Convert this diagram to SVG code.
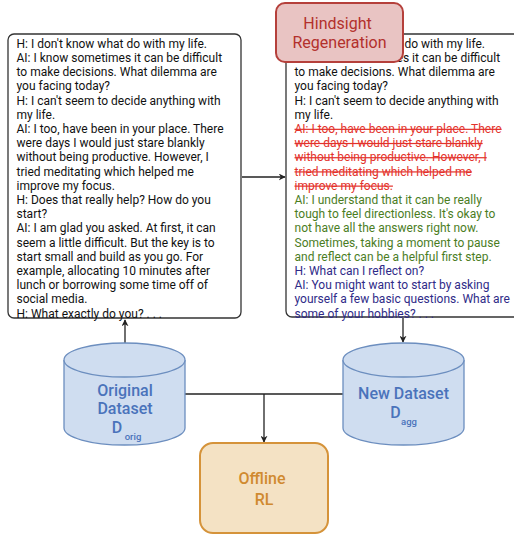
<svg xmlns="http://www.w3.org/2000/svg" width="514" height="536" viewBox="0 0 514 536">
<style>
.t{font-family:Roboto,"Liberation Sans",sans-serif;font-size:12px;fill:#111}
.red{fill:#e3322b;text-decoration:line-through}
.grn{fill:#4b7d1f}
.blu{fill:#2f2b88}
.box{fill:#fff;stroke:#333;stroke-width:1.3}
.cyl{fill:#cfddf0;stroke:#6c8ebf;stroke-width:1.3}
.ct{font-family:Roboto,"Liberation Sans",sans-serif;font-size:16px;font-weight:500;fill:#4a73bb;text-anchor:middle}
.sub{font-size:9.5px}
.edge{fill:none;stroke:#222;stroke-width:1.3}
</style>
<defs>
<marker id="ah" viewBox="0 0 10 10" refX="9" refY="5" markerWidth="7" markerHeight="7" orient="auto" markerUnits="userSpaceOnUse">
<path d="M0,0 L10,5 L0,10 L3,5 z" fill="#222"/>
</marker>
</defs>
<g id="connectors">
<path class="edge" d="M125,343 L125,320" marker-end="url(#ah)"/>
<path class="edge" d="M242,177 L285,177" marker-end="url(#ah)"/>
<path class="edge" d="M403,318 L403,342" marker-end="url(#ah)"/>
<path class="edge" d="M185,394 L343,394"/>
<path class="edge" d="M264,394 L264,442" marker-end="url(#ah)"/>
</g>
<g id="original-dialogue">
<rect class="box" x="8" y="34" width="233" height="284" rx="6"/>
<text class="t" x="16.5">
<tspan x="16.5" y="47.8">H: I don't know what do with my life.</tspan>
<tspan x="16.5" dy="14.2">AI: I know sometimes it can be difficult</tspan>
<tspan x="16.5" dy="14.2">to make decisions. What dilemma are</tspan>
<tspan x="16.5" dy="14.2">you facing today?</tspan>
<tspan x="16.5" dy="14.2">H: I can't seem to decide anything with</tspan>
<tspan x="16.5" dy="14.2">my life.</tspan>
<tspan x="16.5" dy="14.2">AI: I too, have been in your place. There</tspan>
<tspan x="16.5" dy="14.2">were days I would just stare blankly</tspan>
<tspan x="16.5" dy="14.2">without being productive. However, I</tspan>
<tspan x="16.5" dy="14.2">tried meditating which helped me</tspan>
<tspan x="16.5" dy="14.2">improve my focus.</tspan>
<tspan x="16.5" dy="14.2">H: Does that really help? How do you</tspan>
<tspan x="16.5" dy="14.2">start?</tspan>
<tspan x="16.5" dy="14.2">AI: I am glad you asked. At first, it can</tspan>
<tspan x="16.5" dy="14.2">seem a little difficult. But the key is to</tspan>
<tspan x="16.5" dy="14.2">start small and build as you go. For</tspan>
<tspan x="16.5" dy="14.2">example, allocating 10 minutes after</tspan>
<tspan x="16.5" dy="14.2">lunch or borrowing some time off of</tspan>
<tspan x="16.5" dy="14.2">social media.</tspan>
<tspan x="16.5" dy="14.2">H: What exactly do you? . . .</tspan>
</text>
</g>
<g id="regenerated-dialogue">
<rect class="box" x="286" y="34" width="240" height="283" rx="6"/>
<text class="t">
<tspan x="294.5" y="47.8">H: I don't know what do with my life.</tspan>
<tspan x="294.5" dy="14.2">AI: I know sometimes it can be difficult</tspan>
<tspan x="294.5" dy="14.2">to make decisions. What dilemma are</tspan>
<tspan x="294.5" dy="14.2">you facing today?</tspan>
<tspan x="294.5" dy="14.2">H: I can't seem to decide anything with</tspan>
<tspan x="294.5" dy="14.2">my life.</tspan>
<tspan x="294.5" dy="14.2" class="red">AI: I too, have been in your place. There</tspan>
<tspan x="294.5" dy="14.2" class="red">were days I would just stare blankly</tspan>
<tspan x="294.5" dy="14.2" class="red">without being productive. However, I</tspan>
<tspan x="294.5" dy="14.2" class="red">tried meditating which helped me</tspan>
<tspan x="294.5" dy="14.2" class="red">improve my focus.</tspan>
<tspan x="294.5" dy="14.2" class="grn">AI: I understand that it can be really</tspan>
<tspan x="294.5" dy="14.2" class="grn">tough to feel directionless. It's okay to</tspan>
<tspan x="294.5" dy="14.2" class="grn">not have all the answers right now.</tspan>
<tspan x="294.5" dy="14.2" class="grn">Sometimes, taking a moment to pause</tspan>
<tspan x="294.5" dy="14.2" class="grn">and reflect can be a helpful first step.</tspan>
<tspan x="294.5" dy="14.2" class="blu">H: What can I reflect on?</tspan>
<tspan x="294.5" dy="14.2" class="blu">AI: You might want to start by asking</tspan>
<tspan x="294.5" dy="14.2" class="blu">yourself a few basic questions. What are</tspan>
<tspan x="294.5" dy="14.2" class="blu">some of your hobbies? . . .</tspan>
</text>
</g>
<g id="hindsight-regeneration">
<rect x="276" y="3" width="127" height="59" rx="9" fill="#e9c4c3" stroke="#b5403b" stroke-width="2"/>
<text font-family="Roboto,'Liberation Sans',sans-serif" font-size="16" fill="#b3302c" text-anchor="middle">
<tspan x="339.5" y="29">Hindsight</tspan>
<tspan x="339.5" y="48">Regeneration</tspan>
</text>
</g>
<g id="original-dataset">
<path class="cyl" d="M64,360 A60.5,17 0 0 1 185,360 L185,428 A60.5,17 0 0 1 64,428 Z"/>
<path class="cyl" fill="none" d="M64,360 A60.5,17 0 0 0 185,360"/>
<text class="ct"><tspan x="125" y="396">Original</tspan><tspan x="125" y="414">Dataset</tspan><tspan x="117" y="433">D</tspan><tspan class="sub" x="133" y="440">orig</tspan></text>
</g>
<g id="new-dataset">
<path class="cyl" d="M343,360 A60.5,17 0 0 1 464,360 L464,428 A60.5,17 0 0 1 343,428 Z"/>
<path class="cyl" fill="none" d="M343,360 A60.5,17 0 0 0 464,360"/>
<text class="ct"><tspan x="403.5" y="399">New Dataset</tspan><tspan x="395.5" y="418">D</tspan><tspan class="sub" x="409" y="425">agg</tspan></text>
</g>
<g id="offline-rl">
<rect x="200" y="443" width="128" height="90" rx="13" fill="#f4e2c4" stroke="#d5933a" stroke-width="2"/>
<text font-family="Roboto,'Liberation Sans',sans-serif" font-size="16" font-weight="500" fill="#d08a30" text-anchor="middle">
<tspan x="264" y="484">Offline</tspan>
<tspan x="264" y="505">RL</tspan>
</text>
</g>
</svg>
